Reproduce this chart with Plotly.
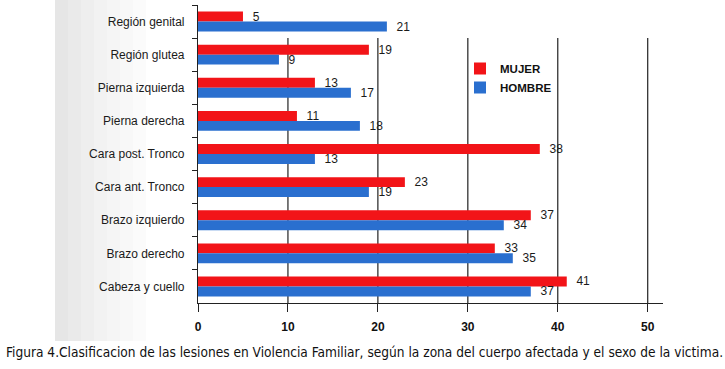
import plotly.graph_objects as go

categories = ["Región genital", "Región glutea", "Pierna izquierda", "Pierna derecha",
              "Cara post. Tronco", "Cara ant. Tronco", "Brazo izquierdo",
              "Brazo derecho", "Cabeza y cuello"]
mujer = [5, 19, 13, 11, 38, 23, 37, 33, 41]
hombre = [21, 9, 17, 18, 13, 19, 34, 35, 37]
x_ticks = [0, 10, 20, 30, 40, 50]
caption = ("Figura 4.Clasificacion de las lesiones en Violencia Familiar, según la zona "
           "del cuerpo afectada y el sexo de la victima.")

RED = "#f21418"
BLUE = "#2a6fcf"
W, H = 725, 369
ML, MR, MT, MB = 198, 62, 5, 66
PW, PH = W - ML - MR, H - MT - MB

def px_x(p):
    return (p - ML) / PW

def px_y(p):
    return (H - MB - p) / PH

fig = go.Figure()
for name, vals, col in (("MUJER", mujer, RED), ("HOMBRE", hombre, BLUE)):
    fig.add_trace(go.Bar(y=categories, x=vals, orientation="h", name=name,
                         marker=dict(color=col, line=dict(width=0)),
                         texttemplate="\u00a0\u00a0%{x}", textposition="outside",
                         constraintext="none",
                         textfont=dict(family="Liberation Sans, Arial", size=12,
                                       color="#1a1a1a"),
                         cliponaxis=False))

shapes = []
# scan background gradient on the left
steps = ["#e6e6e6", "#eaeaea", "#eeeeee", "#f2f2f2", "#f5f5f5", "#f8f8f8", "#fbfbfb"]
x0 = 55
for i, c in enumerate(steps):
    shapes.append(dict(type="rect", xref="paper", yref="paper",
                       x0=px_x(x0 + i * 13), x1=px_x(x0 + (i + 1) * 13),
                       y0=px_y(341), y1=px_y(0), fillcolor=c, line=dict(width=0),
                       layer="below"))
# vertical grid lines (not through top row)
for v in x_ticks[1:]:
    shapes.append(dict(type="line", xref="x", yref="y", x0=v, x1=v,
                       y0=0.5, y1=len(categories) - 0.5,
                       line=dict(color="#222222", width=1.2), layer="below"))

fig.update_layout(
    width=W, height=H,
    margin=dict(l=ML, r=MR, t=MT, b=MB),
    paper_bgcolor="white", plot_bgcolor="rgba(0,0,0,0)",
    barmode="group", bargap=0.4, bargroupgap=0,
    showlegend=True,
    legend=dict(x=px_x(460), y=px_y(54), xanchor="left", yanchor="top",
                bgcolor="rgba(0,0,0,0)",
                font=dict(family="Liberation Sans, Arial", size=11.5, color="#111111",
                          weight="bold"),
                tracegroupgap=0),
    shapes=shapes,
    annotations=[dict(text=caption, xref="paper", yref="paper",
                      x=px_x(4), y=px_y(352), xanchor="left", yanchor="middle",
                      showarrow=False,
                      font=dict(family="DejaVu Sans Condensed, DejaVu Sans", size=13.6,
                                color="#111111"))],
)
fig.update_xaxes(range=[0, 51.7], tickvals=x_ticks, showgrid=False, zeroline=False,
                 showline=True, linecolor="#222222", linewidth=1.2,
                 ticks="outside", ticklen=8, tickcolor="#222222", tickwidth=1.2,
                 tickfont=dict(family="Liberation Sans, Arial", size=12, color="#111111",
                               weight="bold"),
                 ticklabelstandoff=4)
fig.update_yaxes(range=[len(categories) - 0.5, -0.5], categoryorder="array",
                 categoryarray=categories, showgrid=False, zeroline=False,
                 showline=True, linecolor="#222222", linewidth=1.2,
                 ticks="outside", ticklen=5, tickcolor="#222222", tickwidth=1.2,
                 tickson="boundaries",
                 tickfont=dict(family="Liberation Sans, Arial", size=12, color="#1a1a1a"),
                 ticklabelstandoff=10)

fig.write_html("out.html", config={"displayModeBar": False})

# remove the browser's default page margin so the figure fills the window exactly
with open("out.html", encoding="utf-8") as f:
    html = f.read()
html = html.replace("<head>", "<head><style>html,body{margin:0;padding:0;overflow:hidden}</style>", 1)
with open("out.html", "w", encoding="utf-8") as f:
    f.write(html)
